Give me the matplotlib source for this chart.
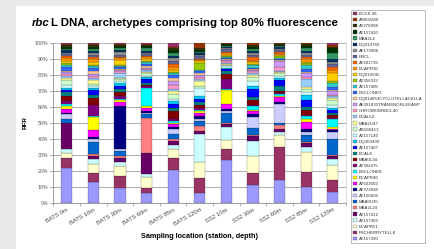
import numpy as np
import matplotlib.pyplot as plt
from matplotlib.patches import Rectangle, Patch
from matplotlib.ticker import PercentFormatter, FixedLocator

plt.rcParams['font.family'] = ['Liberation Sans', 'DejaVu Sans']

stations = ['BATS 0m', 'BATS 10m', 'BATS 30m', 'BATS 60m', 'BATS 85m', 'BATS 120m',
            'SS2 10m', 'SS2 30m', 'SS2 60m', 'SS2 85m', 'SS2 120m']

# archetypes, bottom of the stack first
archetypes = ['AY157390', 'PSCHERRYTELLE', 'ECAPR51', 'AY157303', 'AY157412', 'MBA2L24',
              'MBA0U35', 'AY156602', 'AF372838', 'AY503602', 'ECAPR40', 'BSCLONE8',
              'AY302475', 'MBA0L34', 'ECAL8', 'AY157407', 'DQ300439', 'AY157140',
              'AB186413', 'MBA2U47', 'ECAL52', 'CHROMOBRBCL40', 'AF391830TRANSNORLEEASP',
              'DQ014853CYCLOTELLACELLA', 'BSCLONE3', 'AY157405', 'AY356333', 'DQ019945',
              'ECAPR30', 'AY201736', 'RBCL', 'AF179906', 'DQ014760', 'MBA2L4',
              'AY157420', 'AY270998', 'AB602280', 'ECXJL96']

# excel 2003 series fill colours
colours = ['#9999FF', '#993366', '#FFFFCC', '#CCFFFF', '#660066', '#FF8080', '#0066CC',
           '#CCCCFF', '#000080', '#FF00FF', '#FFFF00', '#00FFFF', '#800080', '#800000',
           '#008080', '#0000FF', '#00CCFF', '#CCFFFF', '#CCFFCC', '#FFFF99', '#99CCFF',
           '#FF99CC', '#CC99FF', '#FFCC99', '#3366FF', '#33CCCC', '#99CC00', '#FFCC00',
           '#FF9900', '#FF6600', '#666699', '#969696', '#003366', '#339966', '#003300',
           '#333300', '#993300', '#993366']

# relative fluorescence per archetype (same order as archetypes)
bats_0m = [21.7, 6, 3, 2.5, 15.6, 0, 3, 2.5, 1, 2.5, 1.5, 1.5, 2, 3, 2, 1.5, 1.5, 1.5, 3.3,
           1, 1, 1.5, 1, 1, 2.5, 1, 1.5, 1, 1.5, 1.5, 1, 1, 1.5, 1, 1, 1, 1, 0.5]
bats_10m = [13.3, 5.6, 5.4, 2.9, 2, 1, 8, 1.5, 1.2, 4.6, 8, 0.8, 6.9, 4.2, 2, 2.7, 1.5, 1,
            1.5, 2.7, 1, 1.5, 1, 1.7, 2, 1, 1, 1.5, 2, 1.2, 1.5, 1, 1.5, 1.2, 1.5, 1, 0.6, 0.6]
bats_30m = [9.2, 7.7, 5.8, 2.5, 2.7, 1, 3.1, 1.5, 26.7, 2.5, 1, 1, 1.7, 2.5, 1.7, 2, 1.5,
            1.5, 1, 1, 3, 1, 0.6, 0.8, 1, 0.6, 0.8, 3.3, 1, 0.6, 1.5, 2, 1, 1, 1.5, 0.8, 0.6, 0.4]
bats_60m = [6, 3.1, 6.9, 2, 12.9, 21.9, 2, 1, 1, 2, 1, 11.5, 1, 1, 1, 2.5, 1, 1, 1.7, 0.8,
            0.8, 0.8, 0.8, 0.8, 1.7, 0.8, 0.8, 1.2, 1.2, 0.8, 1.2, 0.8, 1.2, 1.5, 1.5, 0.8, 0.6, 0.4]
bats_85m = [20.6, 7.3, 5.2, 2.5, 2.7, 1, 3.1, 3.5, 1.2, 1.5, 1, 1, 1.5, 4.8, 2, 2, 2, 1.5,
            2.7, 2, 1, 3, 2, 2, 2, 1, 1, 1, 2, 1.7, 2, 1.5, 1.5, 1.7, 2, 1, 1, 2.3]
bats_120m = [6, 9.4, 9.8, 17.3, 2, 3.5, 2.7, 1.5, 1.7, 2, 1, 1, 1, 2, 2, 1.5, 1.7, 5.2, 1,
             3.1, 1.5, 1.2, 1.5, 1, 1, 0.6, 4.6, 1, 0.6, 0.8, 1.7, 1, 1, 1, 1, 1, 3.3, 0]
ss2_10m = [26.9, 6.7, 5.8, 7.9, 1.5, 1, 6.3, 1, 1, 3.1, 9, 0.8, 5.8, 3.5, 1.7, 1, 1, 1, 0.6,
           0.6, 0.6, 1.2, 0.6, 0.8, 0.6, 0.6, 0.6, 0.8, 1, 0.8, 1.7, 0.8, 0.8, 0.6, 0.8, 0.4, 0.2, 0.2]
ss2_30m = [11.3, 7.3, 10.8, 9, 3.1, 1, 4.2, 6.9, 1.5, 2, 1, 2, 1, 3.1, 1.7, 5, 1.7, 3.1, 2.7,
           1.5, 1, 1, 0.6, 0.8, 0.8, 1.7, 0.8, 0.8, 1.2, 2, 1.5, 1, 1.7, 0.8, 1.7, 1, 1.2, 0]
ss2_60m = [14.4, 20.4, 7.7, 1.5, 1.7, 2.5, 1.7, 11.5, 1, 3.1, 1, 1, 1, 1, 3.1, 3.7, 1.5, 1,
           1.7, 0.8, 0.8, 2, 4, 0.6, 0.8, 0.6, 1, 0.8, 0.8, 0.8, 1.2, 0.8, 1.2, 0.8, 0.8, 0.6, 0.4, 0]
ss2_85m = [10.2, 9.4, 12.5, 2.7, 2.5, 1, 4.2, 1.5, 2, 4.8, 1.5, 1.7, 1, 3.1, 2, 4.2, 3.1, 2,
           1.5, 1.7, 4.6, 1.2, 2.5, 1, 1.5, 2.7, 1, 1, 1.5, 1.2, 1.5, 1, 1.7, 1.5, 1.5, 1.2, 0.6, 0]
ss2_120m = [7, 7.3, 9.4, 3.5, 1.7, 1, 9.4, 4.6, 1.2, 0.8, 1.2, 4.6, 1, 1.5, 1.2, 2, 1.5, 2,
            3.1, 1, 1, 1, 2, 1, 2, 2.5, 1.2, 4.6, 1.7, 2, 2, 1.5, 1.5, 3.7, 3.1, 1, 1, 1.2]

values = np.array([bats_0m, bats_10m, bats_30m, bats_60m, bats_85m, bats_120m,
                   ss2_10m, ss2_30m, ss2_60m, ss2_85m, ss2_120m])
# 100% stacked, like the excel chart
pct = values / values.sum(axis=1, keepdims=True) * 100

fig = plt.figure(figsize=(4.35, 2.49), dpi=100, facecolor='#E9E9E9')
# white chart area behind everything
fig.patches.append(Rectangle((16 / 435, 0), 1, 243 / 249, transform=fig.transFigure,
                             facecolor='white', edgecolor='none', zorder=-10))

ax = fig.add_axes([53.5 / 435, 46 / 249, 292.5 / 435, 160 / 249])
ax.set_zorder(2)
x = np.arange(len(stations))
bottom = np.zeros(len(stations))
for i in range(len(archetypes)):
    ax.bar(x, pct[:, i], 0.42, bottom=bottom, color=colours[i],
           edgecolor='#222222', linewidth=0.15, zorder=3)
    bottom += pct[:, i]

ax.set_xlim(-0.5, len(stations) - 0.5)
ax.set_ylim(0, 100)
ax.set_yticks(np.arange(0, 101, 10))
ax.yaxis.set_major_formatter(PercentFormatter(decimals=0))
ax.grid(axis='y', color='#8C8C8C', linewidth=0.5, zorder=0)
ax.set_axisbelow(True)
ax.set_xticks(x)
ax.set_xticklabels(stations, rotation=30, ha='right', rotation_mode='anchor')
ax.xaxis.set_minor_locator(FixedLocator(np.arange(-0.5, len(stations), 1)))
ax.tick_params(axis='x', which='major', length=0, labelsize=4.2, pad=3, colors='#444444')
ax.tick_params(axis='x', which='minor', length=2, width=0.4, color='#777777')
ax.tick_params(axis='y', length=2, width=0.4, labelsize=3.8, pad=1.5, colors='#555555')
for side in ['top', 'right']:
    ax.spines[side].set_color('#BBBBBB')
    ax.spines[side].set_linewidth(0.4)
for side in ['left', 'bottom']:
    ax.spines[side].set_color('#777777')
    ax.spines[side].set_linewidth(0.5)

ax.set_ylabel('RFR', fontsize=4.6, fontweight='bold', labelpad=5)
ax.set_xlabel('Sampling location (station, depth)', fontsize=5.2, fontweight='bold', labelpad=4)

# title: italic gene name + rest
t1 = fig.text(32 / 435, 1 - 23 / 249, 'rbc', fontsize=8.2, fontweight='bold',
              fontstyle='italic', va='center')
fig.canvas.draw()
bb = t1.get_window_extent()
fig.text(bb.x1 / fig.bbox.width + 0.002, 1 - 23 / 249,
         'L DNA, archetypes comprising top 80% fluorescence',
         fontsize=8.2, fontweight='bold', va='center')

# legend, top entry is the last series
handles = [Patch(facecolor=colours[i], edgecolor='#333333', linewidth=0.2)
           for i in range(len(archetypes))][::-1]
leg = fig.legend(handles, archetypes[::-1], loc='upper left',
                 bbox_to_anchor=(351 / 435, 1 - 10 / 249), fontsize=3.2,
                 handlelength=0.9, handleheight=0.7, handletextpad=0.4,
                 labelspacing=0.44, borderpad=0.5, borderaxespad=0,
                 frameon=True, fancybox=False)
leg.get_frame().set_edgecolor('#888888')
leg.get_frame().set_linewidth(0.5)
for t in leg.get_texts():
    t.set_color('#333333')

fig.savefig('out.png', dpi=100, facecolor=fig.get_facecolor())
